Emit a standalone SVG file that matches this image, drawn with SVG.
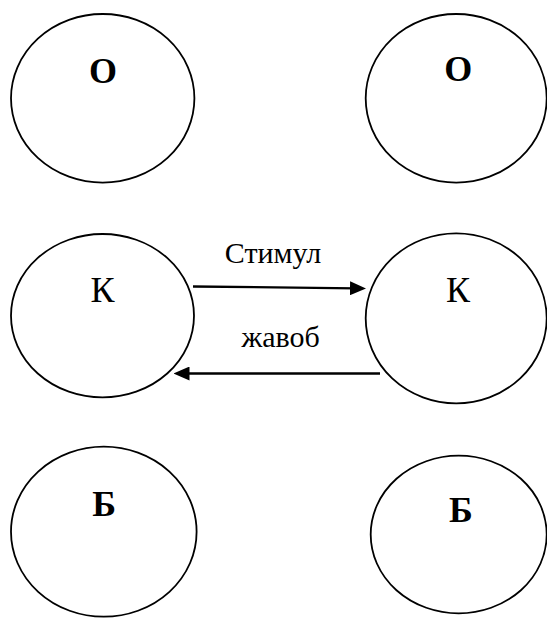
<svg xmlns="http://www.w3.org/2000/svg" width="547" height="619" viewBox="0 0 547 619">
  <style>
    .node ellipse { fill: #ffffff; stroke: #000000; stroke-width: 1.8; }
    .lbl { font-family: "Liberation Serif", "Times New Roman", serif; fill: #000000; text-anchor: middle; }
    .bold { font-weight: bold; font-size: 36px; }
    .plain { font-size: 36px; }
    .edge-label { font-size: 30px; }
    .edge { stroke: #000000; stroke-width: 2.3; fill: none; }
  </style>
  <defs>
    <!-- arrowhead: tip sits 10 units past the line end so the butt cap stays hidden -->
    <marker id="arrow" markerUnits="userSpaceOnUse" markerWidth="16" markerHeight="14" refX="6" refY="7" orient="auto">
      <path d="M0,0 L16,7 L0,14 z" fill="#000000"/>
    </marker>
  </defs>
  <rect width="547" height="619" fill="#ffffff"/>

  <!-- top row -->
  <g id="o-left" class="node">
    <ellipse cx="102.7" cy="98.3" rx="91.7" ry="84.3"/>
    <text class="lbl bold" x="103" y="82.5">О</text>
  </g>
  <g id="o-right" class="node">
    <ellipse cx="456.2" cy="98.3" rx="90.5" ry="84.3"/>
    <text class="lbl bold" x="458.3" y="80.5">О</text>
  </g>

  <!-- middle row -->
  <g id="k-left" class="node">
    <ellipse cx="102.5" cy="315.7" rx="91.5" ry="81.7"/>
    <text class="lbl plain" x="102.5" y="301.7">К</text>
  </g>
  <g id="k-right" class="node">
    <ellipse cx="456.2" cy="318.3" rx="90.5" ry="85"/>
    <text class="lbl plain" x="458" y="301.7">К</text>
  </g>

  <!-- bottom row -->
  <g id="b-left" class="node">
    <ellipse cx="103.8" cy="531.7" rx="92.8" ry="85"/>
    <text class="lbl bold" x="104.2" y="516">Б</text>
  </g>
  <g id="b-right" class="node">
    <ellipse cx="458.7" cy="534.5" rx="88" ry="78.8"/>
    <text class="lbl bold" x="461" y="522.3">Б</text>
  </g>

  <!-- connectors -->
  <g id="connectors">
    <line class="edge" x1="193" y1="286.5" x2="356" y2="288.3" marker-end="url(#arrow)"/>
    <text class="lbl edge-label" x="273" y="263.3">Стимул</text>
    <line class="edge" x1="380" y1="373.5" x2="183.5" y2="373.5" marker-end="url(#arrow)"/>
    <text class="lbl edge-label" x="280.7" y="346.7">жавоб</text>
  </g>
</svg>
